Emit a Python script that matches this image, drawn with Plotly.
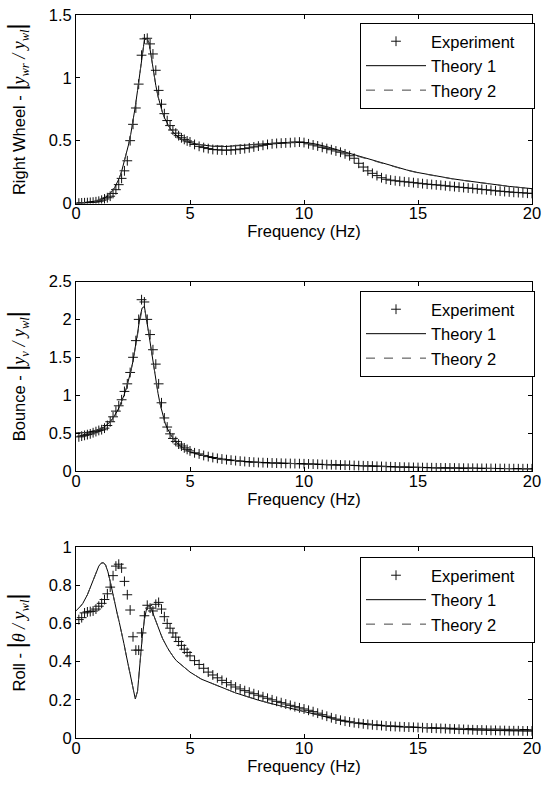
import plotly.graph_objects as go

# ---------------- data ----------------
freq_exp = [0.125, 0.25, 0.375, 0.5, 0.625, 0.75, 0.875, 1.0, 1.125, 1.25,
            1.375, 1.5, 1.625, 1.75, 1.875, 2.0, 2.125, 2.25, 2.375, 2.5,
            2.625, 2.75, 2.875, 3.0, 3.125, 3.25, 3.375, 3.5, 3.625, 3.75,
            3.875, 4.0, 4.125, 4.25, 4.375, 4.5, 4.625, 4.75, 4.875, 5.0,
            5.2, 5.4, 5.6, 5.8, 6.0, 6.2, 6.4, 6.6, 6.8, 7.0,
            7.2, 7.4, 7.6, 7.8, 8.0, 8.2, 8.4, 8.6, 8.8, 9.0,
            9.2, 9.4, 9.6, 9.8, 10.0, 10.2, 10.4, 10.6, 10.8, 11.0,
            11.2, 11.4, 11.6, 11.8, 12.0, 12.2, 12.4, 12.6, 12.8, 13.0,
            13.2, 13.4, 13.6, 13.8, 14.0, 14.2, 14.4, 14.6, 14.8, 15.0,
            15.2, 15.4, 15.6, 15.8, 16.0, 16.2, 16.4, 16.6, 16.8, 17.0,
            17.2, 17.4, 17.6, 17.8, 18.0, 18.2, 18.4, 18.6, 18.8, 19.0,
            19.2, 19.4, 19.6, 19.8, 20.0]

freq_th = [0.0, 0.1, 0.2, 0.3, 0.4, 0.5, 0.6, 0.7, 0.8, 0.9,
           1.0, 1.1, 1.2, 1.3, 1.4, 1.5, 1.6, 1.7, 1.8, 1.9,
           2.0, 2.1, 2.2, 2.3, 2.4, 2.5, 2.6, 2.7, 2.8, 2.9,
           3.0, 3.1, 3.2, 3.3, 3.4, 3.5, 3.6, 3.7, 3.8, 3.9,
           4.0, 4.1, 4.2, 4.3, 4.4, 4.5, 4.6, 4.7, 4.8, 4.9,
           5.0,
           5.5, 6.0, 6.5, 7.0, 7.5, 8.0, 8.5, 9.0, 9.5, 10.0,
           10.5, 11.0, 11.5, 12.0, 12.5, 13.0, 13.5, 14.0, 14.5, 15.0,
           15.5, 16.0, 16.5, 17.0, 17.5, 18.0, 18.5, 19.0, 19.5, 20.0]

# Right wheel |y_wr / y_wl|
rw_exp = [0.003, 0.005, 0.006, 0.007, 0.009, 0.011, 0.014, 0.018, 0.026, 0.036,
          0.046, 0.058, 0.08, 0.11, 0.15, 0.2, 0.26, 0.34, 0.5, 0.63,
          0.76, 0.95, 1.18, 1.31, 1.315, 1.27, 1.19, 1.06, 0.9, 0.79,
          0.715, 0.66, 0.62, 0.585, 0.56, 0.54, 0.523, 0.51, 0.498, 0.49,
          0.47, 0.455, 0.445, 0.437, 0.43, 0.427, 0.425, 0.424, 0.426, 0.428,
          0.433, 0.437, 0.443, 0.45, 0.457, 0.463, 0.47, 0.475, 0.478, 0.48,
          0.482, 0.484, 0.487, 0.489, 0.485, 0.475, 0.466, 0.458, 0.447, 0.437,
          0.428, 0.418, 0.408, 0.395, 0.38, 0.36, 0.32, 0.29, 0.26, 0.24,
          0.222, 0.205, 0.193, 0.186, 0.181, 0.177, 0.173, 0.17, 0.166, 0.162,
          0.158, 0.154, 0.151, 0.148, 0.145, 0.141, 0.137, 0.134, 0.13, 0.127,
          0.123, 0.12, 0.116, 0.112, 0.109, 0.105, 0.101, 0.098, 0.095, 0.092,
          0.089, 0.087, 0.085, 0.082, 0.08]
rw_th1 = [0.0, 0.002, 0.003, 0.005, 0.006, 0.008, 0.010, 0.012, 0.015, 0.019,
          0.024, 0.030, 0.038, 0.048, 0.062, 0.080, 0.102, 0.128, 0.160, 0.202,
          0.255, 0.318, 0.39, 0.465, 0.55, 0.645, 0.77, 0.90, 1.04, 1.18,
          1.30, 1.315, 1.28, 1.17, 1.05, 0.94, 0.85, 0.78, 0.72, 0.675,
          0.637, 0.605, 0.58, 0.558, 0.54, 0.526, 0.514, 0.504, 0.496, 0.49,
          0.484,
          0.466, 0.456, 0.453, 0.457, 0.465, 0.472, 0.478, 0.484, 0.488, 0.487,
          0.474, 0.452, 0.425, 0.398, 0.37, 0.345, 0.318, 0.292, 0.267, 0.246,
          0.228, 0.211, 0.197, 0.184, 0.171, 0.158, 0.146, 0.136, 0.127, 0.118]
rw_th2 = [0.0, 0.002, 0.003, 0.005, 0.006, 0.008, 0.010, 0.012, 0.015, 0.019,
          0.024, 0.030, 0.038, 0.048, 0.062, 0.080, 0.102, 0.128, 0.160, 0.202,
          0.255, 0.318, 0.39, 0.465, 0.55, 0.645, 0.77, 0.90, 1.04, 1.18,
          1.30, 1.315, 1.28, 1.17, 1.05, 0.94, 0.85, 0.78, 0.72, 0.675,
          0.637, 0.605, 0.58, 0.558, 0.54, 0.526, 0.514, 0.504, 0.496, 0.49,
          0.484,
          0.468, 0.459, 0.457, 0.462, 0.47, 0.477, 0.482, 0.486, 0.488, 0.483,
          0.468, 0.446, 0.42, 0.393, 0.366, 0.341, 0.315, 0.289, 0.265, 0.244,
          0.226, 0.21, 0.196, 0.183, 0.17, 0.157, 0.146, 0.136, 0.127, 0.118]

# Bounce |y_v / y_wl|
bo_exp = [0.45, 0.46, 0.47, 0.48, 0.49, 0.505, 0.52, 0.535, 0.545, 0.565,
          0.6, 0.65, 0.715, 0.79, 0.86, 0.94, 1.05, 1.15, 1.3, 1.5,
          1.72, 2.0, 2.26, 2.23, 2.0, 1.8, 1.6, 1.41, 1.15, 0.9,
          0.7, 0.58, 0.49, 0.43, 0.39, 0.355, 0.33, 0.305, 0.285, 0.265,
          0.24, 0.225, 0.205, 0.19, 0.178, 0.167, 0.158, 0.15, 0.143, 0.137,
          0.13, 0.125, 0.12, 0.116, 0.112, 0.11, 0.108, 0.106, 0.104, 0.102,
          0.1, 0.099, 0.098, 0.097, 0.095, 0.093, 0.091, 0.089, 0.087, 0.085,
          0.083, 0.081, 0.079, 0.077, 0.075, 0.073, 0.071, 0.069, 0.067, 0.065,
          0.062, 0.06, 0.058, 0.056, 0.054, 0.052, 0.05, 0.049, 0.047, 0.046,
          0.045, 0.044, 0.043, 0.042, 0.041, 0.04, 0.04, 0.039, 0.038, 0.037,
          0.036, 0.036, 0.035, 0.034, 0.034, 0.033, 0.033, 0.032, 0.032, 0.031,
          0.031, 0.03, 0.03, 0.03, 0.029]
bo_th1 = [0.50, 0.50, 0.502, 0.505, 0.508, 0.512, 0.517, 0.523, 0.53, 0.538,
          0.548, 0.56, 0.575, 0.595, 0.62, 0.65, 0.69, 0.735, 0.785, 0.845,
          0.915, 0.995, 1.085, 1.19, 1.31, 1.45, 1.62, 1.82, 2.02, 2.15,
          2.17, 2.0, 1.8, 1.6, 1.4, 1.2, 1.02, 0.87, 0.74, 0.64,
          0.565, 0.505, 0.455, 0.415, 0.38, 0.35, 0.325, 0.302, 0.283, 0.266,
          0.252,
          0.21, 0.17, 0.15, 0.135, 0.123, 0.115, 0.108, 0.102, 0.097, 0.092,
          0.088, 0.083, 0.078, 0.073, 0.068, 0.063, 0.058, 0.054, 0.05, 0.047,
          0.044, 0.041, 0.039, 0.037, 0.035, 0.034, 0.033, 0.032, 0.031, 0.03]
bo_th2 = [0.50, 0.50, 0.502, 0.505, 0.508, 0.512, 0.517, 0.523, 0.53, 0.538,
          0.548, 0.56, 0.575, 0.595, 0.62, 0.65, 0.69, 0.735, 0.785, 0.845,
          0.915, 0.995, 1.085, 1.19, 1.31, 1.45, 1.62, 1.82, 2.01, 2.14,
          2.16, 2.0, 1.8, 1.6, 1.4, 1.2, 1.02, 0.87, 0.74, 0.64,
          0.565, 0.505, 0.455, 0.415, 0.38, 0.35, 0.325, 0.302, 0.283, 0.266,
          0.252,
          0.21, 0.17, 0.15, 0.135, 0.123, 0.115, 0.108, 0.102, 0.097, 0.092,
          0.088, 0.083, 0.078, 0.073, 0.068, 0.063, 0.058, 0.054, 0.05, 0.047,
          0.044, 0.041, 0.039, 0.037, 0.035, 0.034, 0.033, 0.032, 0.031, 0.03]

# Roll |theta / y_wl|
ro_exp = [0.62, 0.63, 0.655, 0.66, 0.662, 0.665, 0.675, 0.69, 0.705, 0.725,
          0.755, 0.79, 0.85, 0.9, 0.91, 0.89, 0.82, 0.75, 0.67, 0.53,
          0.46, 0.46, 0.55, 0.64, 0.695, 0.68, 0.665, 0.7, 0.71, 0.675,
          0.635, 0.6, 0.575, 0.55, 0.528, 0.505, 0.485, 0.465, 0.448, 0.43,
          0.405, 0.385, 0.365, 0.345, 0.33, 0.315, 0.302, 0.29, 0.278, 0.267,
          0.257, 0.248, 0.24, 0.232, 0.224, 0.216, 0.208, 0.2, 0.192, 0.185,
          0.178, 0.171, 0.164, 0.158, 0.152, 0.145, 0.138, 0.13, 0.122, 0.114,
          0.106, 0.099, 0.093, 0.088, 0.084, 0.08, 0.077, 0.074, 0.071, 0.069,
          0.067, 0.065, 0.063, 0.061, 0.06, 0.059, 0.058, 0.057, 0.056, 0.055,
          0.054, 0.053, 0.052, 0.051, 0.05, 0.049, 0.048, 0.047, 0.046, 0.045,
          0.044, 0.043, 0.042, 0.042, 0.041, 0.04, 0.04, 0.039, 0.039, 0.038,
          0.038, 0.038, 0.037, 0.037, 0.037]
ro_th1 = [0.665, 0.675, 0.69, 0.705, 0.725, 0.75, 0.78, 0.81, 0.845, 0.875,
          0.9, 0.915, 0.918, 0.905, 0.87, 0.82, 0.76, 0.705, 0.655, 0.605,
          0.555, 0.495, 0.435, 0.375, 0.32, 0.26, 0.205, 0.245, 0.39, 0.52,
          0.62, 0.68, 0.695, 0.68, 0.645, 0.61, 0.58, 0.55, 0.52, 0.495,
          0.475, 0.455, 0.435, 0.42, 0.405, 0.395, 0.385, 0.377, 0.367, 0.355,
          0.345,
          0.308, 0.282, 0.26, 0.236, 0.215, 0.198, 0.182, 0.167, 0.152, 0.138,
          0.122, 0.108, 0.095, 0.085, 0.077, 0.071, 0.066, 0.062, 0.059, 0.056,
          0.054, 0.052, 0.05, 0.049, 0.048, 0.047, 0.046, 0.045, 0.044, 0.044]
ro_th2 = [0.665, 0.675, 0.69, 0.705, 0.725, 0.75, 0.78, 0.81, 0.845, 0.875,
          0.9, 0.915, 0.918, 0.905, 0.87, 0.82, 0.76, 0.705, 0.655, 0.605,
          0.555, 0.495, 0.435, 0.375, 0.32, 0.26, 0.205, 0.245, 0.39, 0.52,
          0.62, 0.68, 0.695, 0.68, 0.645, 0.61, 0.58, 0.55, 0.52, 0.495,
          0.475, 0.455, 0.435, 0.42, 0.405, 0.395, 0.385, 0.377, 0.367, 0.355,
          0.345,
          0.308, 0.282, 0.26, 0.236, 0.215, 0.198, 0.182, 0.167, 0.152, 0.138,
          0.122, 0.108, 0.095, 0.085, 0.077, 0.071, 0.066, 0.062, 0.059, 0.056,
          0.054, 0.052, 0.05, 0.049, 0.048, 0.047, 0.046, 0.045, 0.044, 0.044]

y_ranges = [[0, 1.5], [0, 2.5], [0, 1]]
y_ticks = [[0, 0.5, 1, 1.5], [0, 0.5, 1, 1.5, 2, 2.5], [0, 0.2, 0.4, 0.6, 0.8, 1]]
x_ticks = [0, 5, 10, 15, 20]
series_names = ["Experiment", "Theory 1", "Theory 2"]
x_title = "Frequency (Hz)"

SERIF = "font-family:'Liberation Serif', 'Times New Roman', serif"
BAR = "<span style=\"font-size:23px\">|</span>"
y_titles = [
    "Right Wheel - " + BAR + "<span style=\"" + SERIF + ";font-style:italic;font-size:18px\">y<sub>wr</sub> / y<sub>wl</sub></span>" + BAR,
    "Bounce - " + BAR + "<span style=\"" + SERIF + ";font-style:italic;font-size:18px\">y<sub>v</sub> / y<sub>wl</sub></span>" + BAR,
    "Roll - " + BAR + "<span style=\"" + SERIF + ";font-style:italic;font-size:18px\">θ / y<sub>wl</sub></span>" + BAR,
]

panels = [
    (rw_exp, rw_th1, rw_th2),
    (bo_exp, bo_th1, bo_th2),
    (ro_exp, ro_th1, ro_th2),
]

# ---------------- figure ----------------
W, H = 544, 787
FS = 16.5
FONT = "Liberation Sans, Arial, sans-serif"
ML, MR, MT, MB = 76, 12, 15, 49
PW, PH = W - ML - MR, H - MT - MB
boxes = [(15, 203.5), (281.5, 471), (547, 738)]   # pixel top/bottom of each axes
legend_tops = [23, 291, 557]
legend_right = 535
PAD = "\u00a0\u00a0\u00a0"   # right padding inside the legend box


def py(px):
    return 1 - (px - MT) / PH


fig = go.Figure()
layout = dict(
    width=W, height=H,
    margin=dict(l=ML, r=MR, t=MT, b=MB, autoexpand=False),
    paper_bgcolor="white", plot_bgcolor="white",
    font=dict(family=FONT, size=FS, color="black"),
    showlegend=True,
)

for i, (exp, th1, th2) in enumerate(panels):
    n = "" if i == 0 else str(i + 1)
    xa, ya = "x" + n, "y" + n
    lg = "legend" + n
    fig.add_trace(go.Scatter(
        x=freq_exp, y=exp, mode="markers", name=series_names[0] + PAD,
        xaxis=xa, yaxis=ya, legend=lg, legendgroup=f"e{i}",
        marker=dict(symbol="cross-thin", size=7, color="#111111",
                    line=dict(width=1, color="#111111")),
    ))
    fig.add_trace(go.Scatter(
        x=freq_th, y=th1, mode="lines", name=series_names[1],
        xaxis=xa, yaxis=ya, legend=lg, legendgroup=f"t1{i}",
        line=dict(color="black", width=1),
    ))
    fig.add_trace(go.Scatter(
        x=freq_th, y=th2, mode="lines", name=series_names[2],
        xaxis=xa, yaxis=ya, legend=lg, legendgroup=f"t2{i}",
        line=dict(color="#444444", width=1, dash="dash"),
    ))
    top, bot = boxes[i]
    layout["xaxis" + n] = dict(
        domain=[0, 1], anchor=ya, range=[0, 20], automargin=True,
        tickvals=x_ticks, ticks="inside", ticklen=4, tickcolor="black",
        ticklabelstandoff=-5,
        showline=True, linecolor="black", linewidth=1, mirror="ticks",
        showgrid=False, zeroline=False,
        tickfont=dict(size=FS),
        title=dict(text=x_title, font=dict(size=FS), standoff=0),
    )
    layout["yaxis" + n] = dict(
        domain=[py(bot), py(top)], anchor=xa, range=y_ranges[i], automargin=True,
        tickvals=y_ticks[i], ticks="inside", ticklen=4, tickcolor="black",
        showline=True, linecolor="black", linewidth=1, mirror="ticks",
        showgrid=False, zeroline=False,
        tickfont=dict(size=FS),
        title=dict(text=y_titles[i], font=dict(size=FS), standoff=18),
    )
    layout[lg] = dict(
        x=(legend_right - ML) / PW, xanchor="right",
        y=py(legend_tops[i]), yanchor="top",
        bgcolor="white", bordercolor="black", borderwidth=1,
        font=dict(size=FS, color="black"), itemwidth=60,
        tracegroupgap=0, traceorder="normal",
    )

fig.update_layout(**layout)
fig.write_html(
    "out.html",
    config={"displayModeBar": False},
    post_script="document.body.style.margin='0';document.body.style.padding='0';"
                "document.body.style.overflow='hidden';",
)
